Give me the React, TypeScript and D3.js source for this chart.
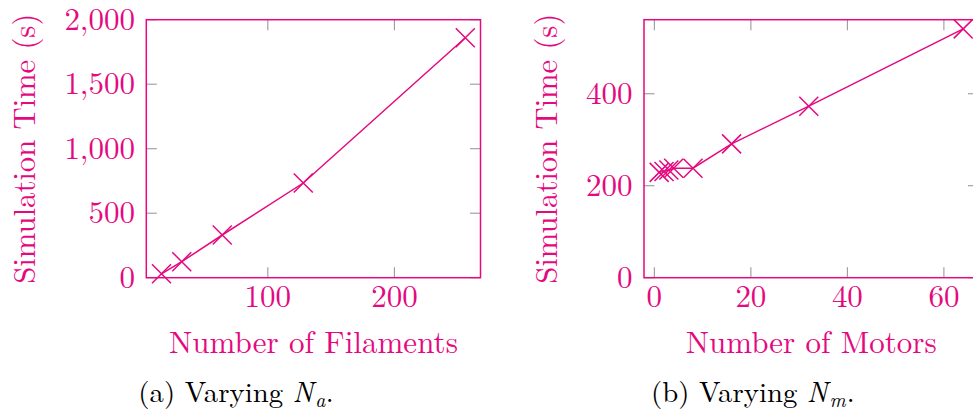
import React from "react";
import * as d3 from "d3";

// ---------- data ----------
const filaments = [16, 32, 64, 128, 256];
const filamentTimes = [30, 124, 331, 734, 1860];
const motors = [1, 2, 3, 4, 8, 16, 32, 64];
const motorTimes = [229, 231, 234, 238, 238, 291, 373, 541];

const leftXTicks = [100, 200];
const leftYTicks = [0, 500, 1000, 1500, 2000];
const rightXTicks = [0, 20, 40, 60];
const rightYTicks = [0, 200, 400];

const COLOR = "#E5097F";
const TICK = "#9a9a9a";
const FONT = "'Latin Modern Roman', 'CMU Serif', 'Liberation Serif', 'Times New Roman', serif";
const FS = 31;
const TL = 10.5;
const MS = 9.5;

function fmt(v: number) {
  return d3.format(",")(v);
}

type PanelProps = {
  xs: number[];
  ys: number[];
  xDomain: [number, number];
  yDomain: [number, number];
  xRange: [number, number];
  yRange: [number, number];
  xTicks: number[];
  yTicks: number[];
  xLabel: string;
  xLabelWidth: number;
  yLabelX: number;
  yTickRight: number;
};

function Panel(p: PanelProps) {
  const x = d3.scaleLinear().domain(p.xDomain).range(p.xRange);
  const y = d3.scaleLinear().domain(p.yDomain).range(p.yRange);
  const [x0, x1] = p.xRange;
  const [y1, y0] = p.yRange; // y1 bottom, y0 top
  const pts = p.xs.map((v, i) => [x(v), y(p.ys[i])] as [number, number]);
  const line = d3.line()(pts) || "";
  const cx = (x0 + x1) / 2;
  const cy = (y0 + y1) / 2;
  return (
    <g>
      {/* ticks */}
      {p.xTicks.map((t) => (
        <g key={"xt" + t}>
          <line x1={x(t)} x2={x(t)} y1={y1} y2={y1 - TL} stroke={TICK} strokeWidth={1.1} />
          <line x1={x(t)} x2={x(t)} y1={y0} y2={y0 + TL} stroke={TICK} strokeWidth={1.1} />
        </g>
      ))}
      {p.yTicks.map((t) => (
        <g key={"yt" + t}>
          <line x1={x0} x2={x0 + TL} y1={y(t)} y2={y(t)} stroke={TICK} strokeWidth={1.1} />
          <line x1={x1} x2={x1 - TL} y1={y(t)} y2={y(t)} stroke={TICK} strokeWidth={1.1} />
        </g>
      ))}
      {/* frame */}
      <rect x={x0} y={y0} width={x1 - x0} height={y1 - y0} fill="none" stroke={COLOR} strokeWidth={1.5} />
      {/* line */}
      <path d={line} fill="none" stroke={COLOR} strokeWidth={1.5} />
      {pts.map(([px, py], i) => (
        <path
          key={"m" + i}
          d={`M${px - MS},${py - MS}L${px + MS},${py + MS}M${px - MS},${py + MS}L${px + MS},${py - MS}`}
          stroke={COLOR}
          strokeWidth={1.5}
          fill="none"
        />
      ))}
      {/* tick labels */}
      {p.xTicks.map((t) => (
        <text key={"xl" + t} x={x(t)} y={307} textAnchor="middle" fill={COLOR} fontFamily={FONT} fontSize={FS}>
          {fmt(t)}
        </text>
      ))}
      {p.yTicks.map((t) => (
        <text key={"yl" + t} x={p.yTickRight} y={y(t) + 10} textAnchor="end" fill={COLOR} fontFamily={FONT} fontSize={FS}>
          {fmt(t)}
        </text>
      ))}
      {/* axis labels */}
      <text
        x={cx - p.xLabelWidth / 2}
        y={353}
        fill={COLOR}
        fontFamily={FONT}
        fontSize={FS}
        textLength={p.xLabelWidth}
        lengthAdjust="spacingAndGlyphs"
      >
        {p.xLabel}
      </text>
      <text
        transform={`translate(${p.yLabelX},${cy}) rotate(-90)`}
        x={-135}
        y={0}
        fill={COLOR}
        fontFamily={FONT}
        fontSize={FS}
        textLength={270}
        lengthAdjust="spacingAndGlyphs"
      >
        Simulation Time (s)
      </text>
    </g>
  );
}

function Caption({ x0, letter, sub, firstW, subW }: { x0: number; letter: string; sub: string; firstW: number; subW: number }) {
  const fs = 28.3;
  const nX = x0 + firstW + 0.333 * fs;
  const subX = nX + 0.803 * fs;
  const dotX = subX + subW;
  return (
    <g fill="#000" fontFamily={FONT}>
      <text x={x0} y={402} fontSize={fs} textLength={firstW} lengthAdjust="spacingAndGlyphs">
        {`(${letter}) Varying`}
      </text>
      <text x={nX} y={402} fontSize={fs} fontStyle="italic">
        N
      </text>
      <text x={subX} y={407} fontSize={fs * 0.7} fontStyle="italic">
        {sub}
      </text>
      <text x={dotX} y={402} fontSize={fs}>
        .
      </text>
    </g>
  );
}

export default function App() {
  return (
    <svg
      width={973}
      height={412}
      viewBox="0 0 973 412"
      style={{ position: "absolute", left: 0, top: 0, background: "#fff" }}
    >
      <rect x={0} y={0} width={973} height={412} fill="#fff" />
      <Panel
        xs={filaments}
        ys={filamentTimes}
        xDomain={[4, 268]}
        yDomain={[0, 2000]}
        xRange={[146.3, 480.5]}
        yRange={[277.7, 19.7]}
        xTicks={leftXTicks}
        yTicks={leftYTicks}
        xLabel="Number of Filaments"
        xLabelWidth={289}
        yLabelX={35}
        yTickRight={135}
      />
      <Panel
        xs={motors}
        ys={motorTimes}
        xDomain={[-2.15, 67.15]}
        yDomain={[0, 561]}
        xRange={[644, 978.4]}
        yRange={[277.7, 19.7]}
        xTicks={rightXTicks}
        yTicks={rightYTicks}
        xLabel="Number of Motors"
        xLabelWidth={251}
        yLabelX={557}
        yTickRight={632.5}
      />
      <Caption x0={138.3} letter="a" sub="a" firstW={144.8} subW={10.5} />
      <Caption x0={651} letter="b" sub="m" firstW={146.3} subW={17.4} />
    </svg>
  );
}
